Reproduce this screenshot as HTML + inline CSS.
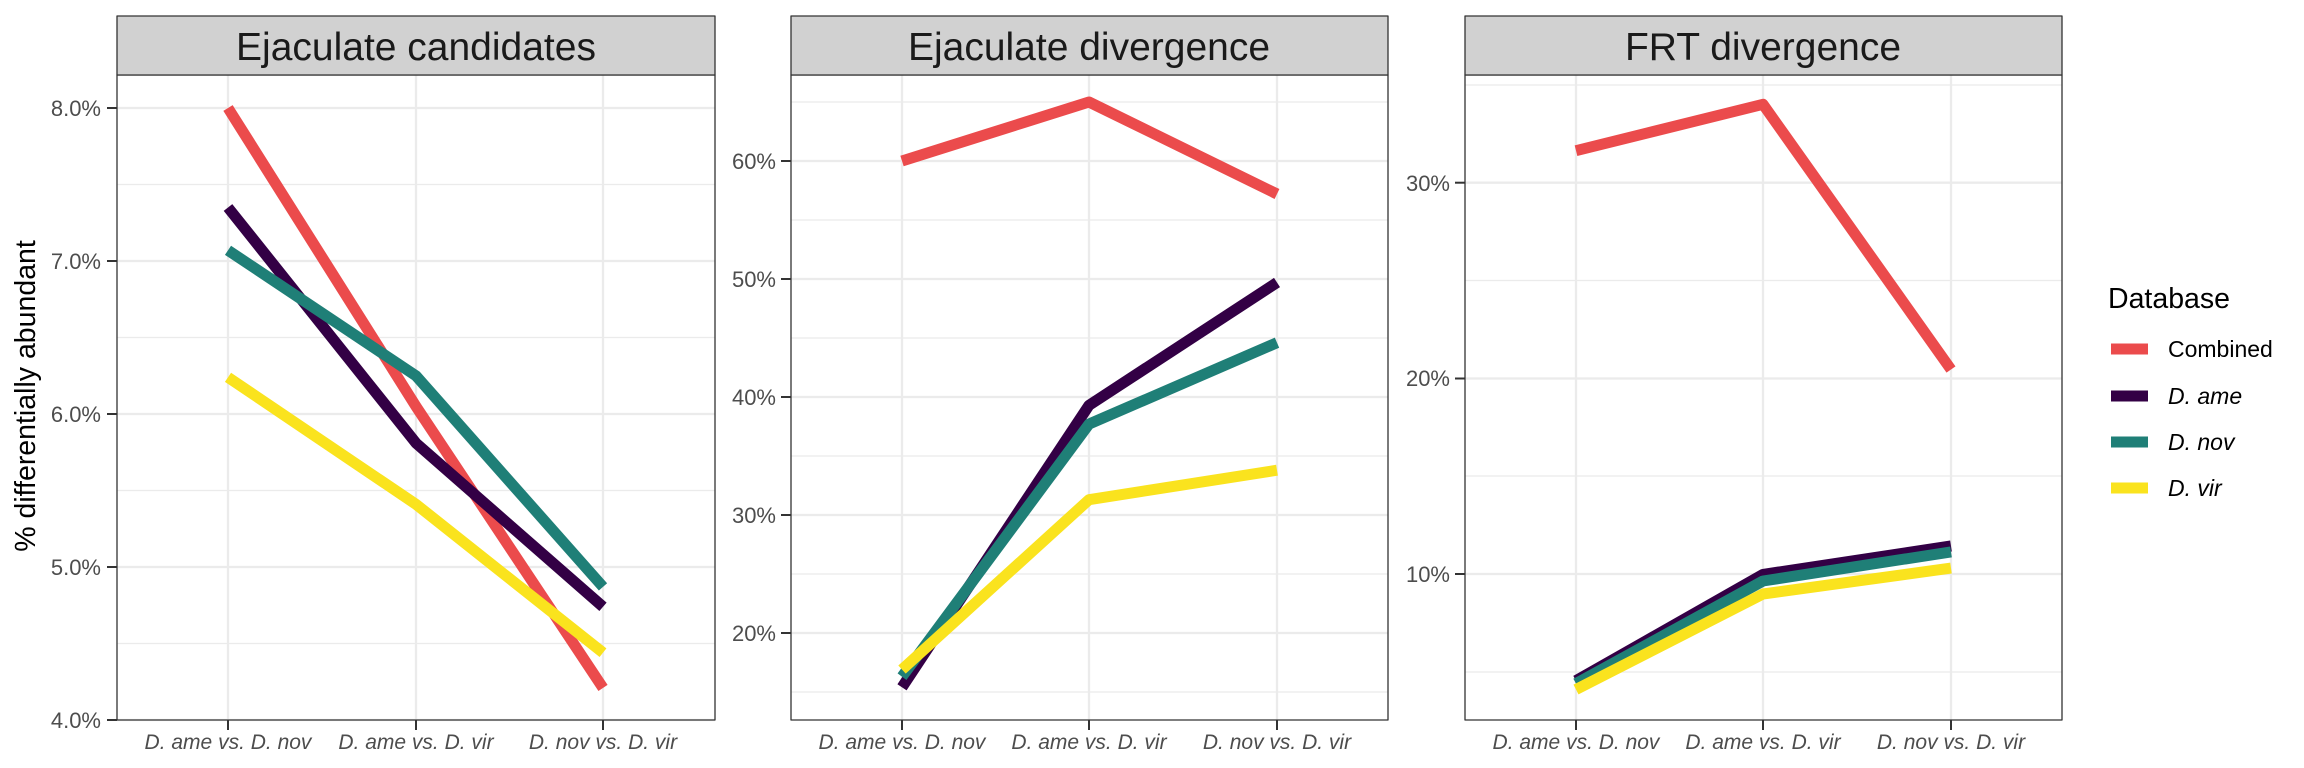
<!DOCTYPE html>
<html><head><meta charset="utf-8"><style>
html,body{margin:0;padding:0;background:#fff}
svg{display:block}
text{font-family:"Liberation Sans",Arial,sans-serif}
</style></head><body>
<svg width="2304" height="768" viewBox="0 0 2304 768" xmlns="http://www.w3.org/2000/svg">
<rect width="2304" height="768" fill="#fff"/>
<g fill="none" stroke-linejoin="round">
<!-- Panel 1 -->
<g stroke="#ebebeb">
<g stroke-width="1.2"><line x1="117" x2="715" y1="184.5" y2="184.5"/><line x1="117" x2="715" y1="337.5" y2="337.5"/><line x1="117" x2="715" y1="490.5" y2="490.5"/><line x1="117" x2="715" y1="643.5" y2="643.5"/></g>
<g stroke-width="2.3"><line x1="117" x2="715" y1="108" y2="108"/><line x1="117" x2="715" y1="261" y2="261"/><line x1="117" x2="715" y1="414" y2="414"/><line x1="117" x2="715" y1="567" y2="567"/><line x1="117" x2="715" y1="720" y2="720"/>
<line x1="228" x2="228" y1="75" y2="720"/><line x1="416" x2="416" y1="75" y2="720"/><line x1="603" x2="603" y1="75" y2="720"/></g>
</g>
<g stroke-width="11">
<polyline stroke="#EB4B4C" points="228,108 416,406.4 603,687.9"/>
<polyline stroke="#330045" points="228,207.5 416,443.1 603,606.8"/>
<polyline stroke="#1F7F77" points="228,250.3 416,375.8 603,586.9"/>
<polyline stroke="#FAE31E" points="228,377.3 416,504.3 603,652.7"/>
</g>
<rect x="117" y="75" width="598" height="645" stroke="#333" stroke-width="1.3"/>
<rect x="117" y="16" width="598" height="59" fill="#d1d1d1" stroke="#333" stroke-width="1.3"/>
<g stroke="#333" stroke-width="2"><line x1="107" x2="117" y1="108" y2="108"/><line x1="107" x2="117" y1="261" y2="261"/><line x1="107" x2="117" y1="414" y2="414"/><line x1="107" x2="117" y1="567" y2="567"/><line x1="107" x2="117" y1="720" y2="720"/>
<line x1="228" x2="228" y1="720" y2="730"/><line x1="416" x2="416" y1="720" y2="730"/><line x1="603" x2="603" y1="720" y2="730"/></g>

<!-- Panel 2 -->
<g stroke="#ebebeb">
<g stroke-width="1.2"><line x1="791" x2="1388" y1="102" y2="102"/><line x1="791" x2="1388" y1="220" y2="220"/><line x1="791" x2="1388" y1="338" y2="338"/><line x1="791" x2="1388" y1="456" y2="456"/><line x1="791" x2="1388" y1="574" y2="574"/><line x1="791" x2="1388" y1="692" y2="692"/></g>
<g stroke-width="2.3"><line x1="791" x2="1388" y1="161" y2="161"/><line x1="791" x2="1388" y1="279" y2="279"/><line x1="791" x2="1388" y1="397" y2="397"/><line x1="791" x2="1388" y1="515" y2="515"/><line x1="791" x2="1388" y1="633" y2="633"/>
<line x1="902" x2="902" y1="75" y2="720"/><line x1="1089" x2="1089" y1="75" y2="720"/><line x1="1277" x2="1277" y1="75" y2="720"/></g>
</g>
<g stroke-width="11">
<polyline stroke="#EB4B4C" points="902,161 1089,102 1277,194"/>
<polyline stroke="#330045" points="902,687.3 1089,405.3 1277,282.5"/>
<polyline stroke="#1F7F77" points="902,676.7 1089,424.1 1277,342.7"/>
<polyline stroke="#FAE31E" points="902,669.6 1089,499.7 1277,470.2"/>
</g>
<rect x="791" y="75" width="597" height="645" stroke="#333" stroke-width="1.3"/>
<rect x="791" y="16" width="597" height="59" fill="#d1d1d1" stroke="#333" stroke-width="1.3"/>
<g stroke="#333" stroke-width="2"><line x1="781" x2="791" y1="161" y2="161"/><line x1="781" x2="791" y1="279" y2="279"/><line x1="781" x2="791" y1="397" y2="397"/><line x1="781" x2="791" y1="515" y2="515"/><line x1="781" x2="791" y1="633" y2="633"/>
<line x1="902" x2="902" y1="720" y2="730"/><line x1="1089" x2="1089" y1="720" y2="730"/><line x1="1277" x2="1277" y1="720" y2="730"/></g>

<!-- Panel 3 -->
<g stroke="#ebebeb">
<g stroke-width="1.2"><line x1="1465" x2="2062" y1="85" y2="85"/><line x1="1465" x2="2062" y1="280.5" y2="280.5"/><line x1="1465" x2="2062" y1="476" y2="476"/><line x1="1465" x2="2062" y1="672" y2="672"/></g>
<g stroke-width="2.3"><line x1="1465" x2="2062" y1="182.7" y2="182.7"/><line x1="1465" x2="2062" y1="378.5" y2="378.5"/><line x1="1465" x2="2062" y1="574" y2="574"/>
<line x1="1576" x2="1576" y1="75" y2="720"/><line x1="1763" x2="1763" y1="75" y2="720"/><line x1="1951" x2="1951" y1="75" y2="720"/></g>
</g>
<g stroke-width="11">
<polyline stroke="#EB4B4C" points="1576,150.7 1763,104.3 1951,369.5"/>
<polyline stroke="#330045" points="1576,680.7 1763,574.4 1951,546"/>
<polyline stroke="#1F7F77" points="1576,683.6 1763,581 1951,551.9"/>
<polyline stroke="#FAE31E" points="1576,689.5 1763,594 1951,568.1"/>
</g>
<rect x="1465" y="75" width="597" height="645" stroke="#333" stroke-width="1.3"/>
<rect x="1465" y="16" width="597" height="59" fill="#d1d1d1" stroke="#333" stroke-width="1.3"/>
<g stroke="#333" stroke-width="2"><line x1="1455" x2="1465" y1="182.7" y2="182.7"/><line x1="1455" x2="1465" y1="378.5" y2="378.5"/><line x1="1455" x2="1465" y1="574" y2="574"/>
<line x1="1576" x2="1576" y1="720" y2="730"/><line x1="1763" x2="1763" y1="720" y2="730"/><line x1="1951" x2="1951" y1="720" y2="730"/></g>

<!-- legend keys -->
<g stroke-width="11">
<line stroke="#EB4B4C" x1="2111" x2="2148" y1="349" y2="349"/>
<line stroke="#330045" x1="2111" x2="2148" y1="396" y2="396"/>
<line stroke="#1F7F77" x1="2111" x2="2148" y1="442" y2="442"/>
<line stroke="#FAE31E" x1="2111" x2="2148" y1="488" y2="488"/>
</g>
</g>

<!-- strip titles -->
<g font-size="39" fill="#1a1a1a" text-anchor="middle">
<text x="416" y="60">Ejaculate candidates</text>
<text x="1089" y="60">Ejaculate divergence</text>
<text x="1763" y="60">FRT divergence</text>
</g>
<!-- y tick labels -->
<g font-size="22" fill="#4d4d4d" text-anchor="end">
<text x="101" y="116">8.0%</text><text x="101" y="269">7.0%</text><text x="101" y="422">6.0%</text><text x="101" y="575">5.0%</text><text x="101" y="728">4.0%</text>
<text x="776" y="169">60%</text><text x="776" y="287">50%</text><text x="776" y="405">40%</text><text x="776" y="523">30%</text><text x="776" y="641">20%</text>
<text x="1450" y="191">30%</text><text x="1450" y="386">20%</text><text x="1450" y="582">10%</text>
</g>
<!-- x tick labels -->
<g font-size="21" fill="#4d4d4d" text-anchor="middle" font-style="italic">
<text x="228" y="749">D. ame vs. D. nov</text><text x="416" y="749">D. ame vs. D. vir</text><text x="603" y="749">D. nov vs. D. vir</text>
<text x="902" y="749">D. ame vs. D. nov</text><text x="1089" y="749">D. ame vs. D. vir</text><text x="1277" y="749">D. nov vs. D. vir</text>
<text x="1576" y="749">D. ame vs. D. nov</text><text x="1763" y="749">D. ame vs. D. vir</text><text x="1951" y="749">D. nov vs. D. vir</text>
</g>
<text transform="translate(35,396) rotate(-90)" font-size="28.5" fill="#000" text-anchor="middle">% differentially abundant</text>
<text x="2108" y="308" font-size="28.5" fill="#000">Database</text>
<g font-size="23" fill="#000">
<text x="2168" y="357">Combined</text>
<text x="2168" y="404" font-style="italic">D. ame</text>
<text x="2168" y="450" font-style="italic">D. nov</text>
<text x="2168" y="496" font-style="italic">D. vir</text>
</g>
</svg>
</body></html>
